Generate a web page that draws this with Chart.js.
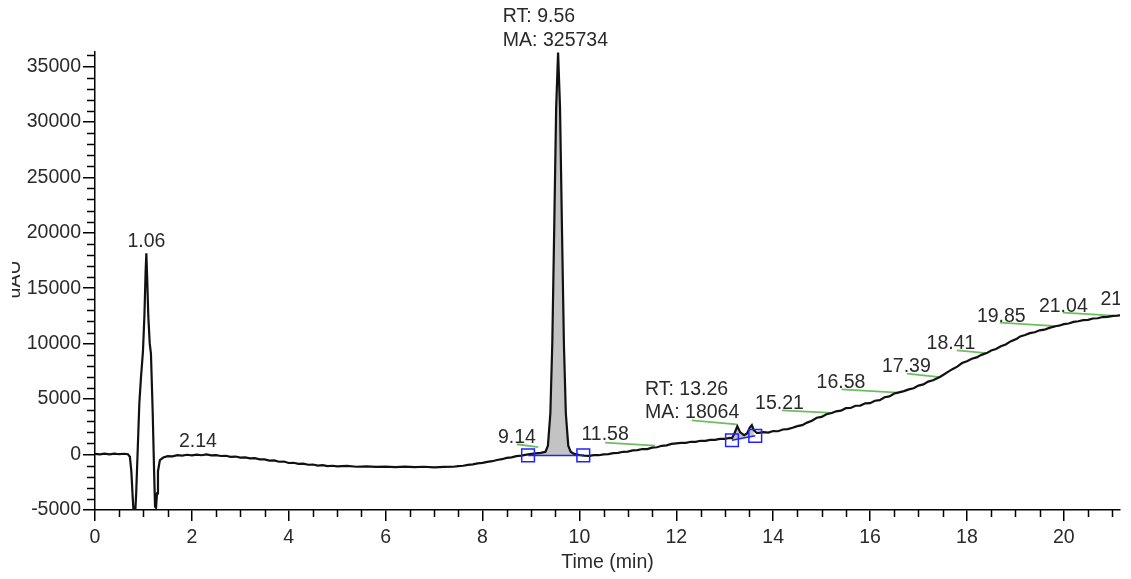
<!DOCTYPE html>
<html>
<head>
<meta charset="utf-8">
<script src="https://cdn.jsdelivr.net/npm/chart.js@4.4.1/dist/chart.umd.min.js"></script>
<style>
  html, body { margin: 0; padding: 0; background: #fff; }
  #wrap { width: 1131px; height: 579px; }
</style>
</head>
<body>
<div id="wrap"><canvas id="c" width="1131" height="579"></canvas></div>
<script>
// ---- trace (time in min, signal in uAU) ----
const times = [
  0.00, 0.10, 0.20, 0.30, 0.40, 0.50, 0.60, 0.68, 0.72, 0.75, 0.78, 0.80, 0.83, 0.85, 0.88,
  0.915, 0.95, 0.99, 1.02, 1.045, 1.06, 1.08, 1.10, 1.13, 1.155, 1.19, 1.22, 1.24, 1.26, 1.28,
  1.30, 1.34, 1.41, 1.50, 1.60, 1.70, 1.80, 1.90, 2.00, 2.10, 2.20, 2.30, 2.40, 2.50, 2.60,
  2.70, 2.80, 2.90, 3.00, 3.10, 3.20, 3.30, 3.40, 3.50, 3.60, 3.70, 3.80, 3.90, 4.00, 4.10,
  4.20, 4.30, 4.40, 4.50, 4.60, 4.70, 4.80, 4.90, 5.00, 5.20, 5.40, 5.60, 5.80, 6.00, 6.20,
  6.40, 6.60, 6.80, 7.00, 7.20, 7.40, 7.50, 7.60, 7.70, 7.80, 7.90, 8.00, 8.10, 8.20, 8.30,
  8.40, 8.50, 8.60, 8.70, 8.80, 8.94, 9.10, 9.20, 9.30, 9.35, 9.40, 9.44, 9.48, 9.52, 9.56,
  9.60, 9.64, 9.68, 9.72, 9.77, 9.82, 9.88, 10.00, 10.10, 10.20, 10.30, 10.40, 10.50, 10.60, 10.70,
  10.80, 10.90, 11.00, 11.10, 11.20, 11.30, 11.40, 11.50, 11.60, 11.70, 11.80, 11.90, 12.00, 12.10, 12.20,
  12.30, 12.40, 12.50, 12.60, 12.70, 12.80, 12.90, 13.00, 13.10, 13.15, 13.20, 13.26, 13.32, 13.40, 13.46,
  13.52, 13.56, 13.60, 13.66, 13.70, 13.80, 13.90, 14.00, 14.10, 14.20, 14.30, 14.40, 14.50, 14.60, 14.70,
  14.80, 14.90, 15.00, 15.10, 15.21, 15.30, 15.40, 15.50, 15.60, 15.70, 15.80, 15.90, 16.00, 16.10, 16.20,
  16.30, 16.40, 16.50, 16.58, 16.70, 16.80, 16.90, 17.00, 17.10, 17.20, 17.30, 17.44, 17.50, 17.60, 17.70,
  17.80, 17.90, 18.00, 18.10, 18.20, 18.30, 18.41, 18.50, 18.60, 18.70, 18.80, 18.90, 19.03, 19.10, 19.20,
  19.30, 19.40, 19.50, 19.60, 19.70, 19.85, 19.90, 20.00, 20.10, 20.20, 20.30, 20.40, 20.50, 20.60, 20.70,
  20.80, 20.90, 21.02, 21.10, 21.20
];
const signal = [
  60, 10, 90, 20, 80, 30, 70, 30, -200, -1500, -4000, -5400, -5300, -3500, 200,
  4600, 7000, 9300, 12500, 16500, 18150, 15500, 12500, 10000, 9100, 4000, -1500, -4700, -4800, -3500,
  -1500, -500, -270, -150, -160, -60, -90, -20, -70, 0, -60, 10, -80, -60, -130,
  -110, -200, -180, -280, -250, -350, -330, -440, -430, -540, -530, -650, -630, -760, -740,
  -840, -820, -920, -900, -990, -960, -1050, -1010, -1070, -1030, -1100, -1060, -1110, -1080, -1130,
  -1090, -1140, -1100, -1160, -1110, -1100, -1050, -1010, -930, -880, -790, -750, -660, -600, -490,
  -420, -300, -260, -140, -100, 20, 100, 150, 250, 800, 3700, 10000, 20400, 31300, 36250,
  31300, 20400, 10000, 3700, 800, 250, 80, -40, -90, -110, -50, -60, 20, 40, 130,
  150, 250, 260, 380, 400, 500, 490, 620, 660, 790, 830, 960, 1010, 1060, 1050,
  1150, 1140, 1240, 1230, 1330, 1320, 1420, 1410, 1500, 1480, 1900, 2550, 2000, 1750, 1900,
  2450, 2650, 2200, 1950, 1960, 2020, 1980, 2120, 2100, 2260, 2300, 2420, 2560, 2650, 2880,
  3050, 3320, 3400, 3640, 3750, 3900, 3960, 4180, 4200, 4400, 4420, 4620, 4630, 4850, 4900,
  5170, 5250, 5500, 5590, 5720, 5880, 5980, 6220, 6330, 6580, 6700, 6990, 7150, 7430, 7700,
  7930, 8250, 8420, 8640, 8760, 8990, 9150, 9380, 9520, 9760, 9920, 10200, 10450, 10650, 10780,
  10950, 11030, 11200, 11260, 11420, 11590, 11620, 11760, 11820, 11960, 12020, 12120, 12150, 12270, 12290,
  12400, 12410, 12500, 12520, 12580
];

// ---- integrated peaks: baseline start/end (blue markers) ----
const peakStartT = [8.94, 13.15];
const peakStartV = [-80, 1290];
const peakEndT   = [10.08, 13.63];
const peakEndV   = [-80, 1690];

// ---- axis ticks ----
const xTickValues = [0, 2, 4, 6, 8, 10, 12, 14, 16, 18, 20];
const yTickValues = [-5000, 0, 5000, 10000, 15000, 20000, 25000, 30000, 35000];
const xRange = [0, 21.16];
const yRange = [-5000, 36300];

// ---- peak labels (centre time, middle value) ----
const labelText = ['1.06', '2.14', '9.14', '11.58', '15.21', '16.58', '17.39', '18.41', '19.85', '21.04', '21.55'];
const labelT    = [1.063, 2.124, 8.71, 10.53, 14.13, 15.40, 16.75, 17.67, 18.71, 19.99, 21.26];
const labelV    = [19220, 1200, 1560, 1830, 4620, 6510, 7960, 10030, 12460, 13360, 14010];

// ---- RT / MA annotations (left time, two line values) ----
const rtText  = [['RT: 9.56', 'MA: 325734'], ['RT: 13.26', 'MA: 18064']];
const rtT     = [8.42, 11.354];
const rtLineV = [[39500, 37340], [5885, 3810]];

// ---- green label leader lines ----
const leadFromT = [8.71, 10.53, 12.32, 14.18, 15.41, 16.76, 17.79, 18.68, 19.98];
const leadFromV = [930, 1080, 3090, 3990, 5880, 7300, 9400, 11890, 12790];
const leadToT   = [9.15, 11.56, 13.25, 15.21, 16.58, 17.44, 18.41, 19.85, 21.01];
const leadToV   = [660, 810, 2730, 3750, 5590, 6990, 9150, 11590, 12520];

// ---- build datasets ----
const FONT = 'Arial, "Liberation Sans", sans-serif';
const FS = 19.5;
const TXT = '#2a2a2a';
const tracePts = times.map((t, i) => ({x: t, y: signal[i]}));
const datasets = [];

datasets.push({
  label: 'trace', data: tracePts, showLine: true, borderColor: '#111', borderWidth: 2.2,
  pointRadius: 0, tension: 0, order: 2, fill: false
});
const blueIdx = [];
peakStartT.forEach((t, i) => {
  blueIdx.push(datasets.length);
  datasets.push({
    label: 'base' + i,
    data: [{x: t, y: peakStartV[i]}, {x: peakEndT[i], y: peakEndV[i]}],
    showLine: true, borderColor: '#2222ff', borderWidth: 1.5,
    pointStyle: 'rect', pointRadius: 9, pointBorderColor: '#2222ff', pointBorderWidth: 1.5,
    pointBackgroundColor: 'rgba(0,0,0,0)', order: 1, fill: false
  });
});
peakStartT.forEach((t, i) => {
  const pts = tracePts.filter(p => p.x >= t && p.x <= peakEndT[i]);
  datasets.push({
    label: 'fill' + i, data: pts, showLine: true, borderWidth: 0, borderColor: 'rgba(0,0,0,0)',
    backgroundColor: '#c3c3c3', pointRadius: 0, order: 6, fill: {target: blueIdx[i]}
  });
});
leadFromT.forEach((t, i) => {
  datasets.push({
    label: 'lead' + i,
    data: [{x: t, y: leadFromV[i]}, {x: leadToT[i], y: leadToV[i]}],
    showLine: true, borderColor: '#6cbf5e', borderWidth: 1.8, pointRadius: 0, order: 3, fill: false
  });
});

// ---- plugins ----
const decorations = {
  id: 'decorations',
  afterDraw(chart) {
    const {ctx, chartArea} = chart;
    const xs = chart.scales.x, ys = chart.scales.y;
    ctx.save();
    ctx.strokeStyle = '#000';
    ctx.lineWidth = 1.5;
    ctx.beginPath();
    for (let v = yRange[0]; v <= yRange[1]; v += 1000) {
      if (v % 5000 === 0) continue;
      const py = Math.round(ys.getPixelForValue(v)) + 0.5;
      ctx.moveTo(chartArea.left - 8, py); ctx.lineTo(chartArea.left, py);
    }
    for (let v = 0.5; v <= xRange[1]; v += 1) {
      const px = Math.round(xs.getPixelForValue(v)) + 0.5;
      ctx.moveTo(px, chartArea.bottom); ctx.lineTo(px, chartArea.bottom + 7);
    }
    for (let v = 1; v <= xRange[1]; v += 2) {
      const px = Math.round(xs.getPixelForValue(v)) + 0.5;
      ctx.moveTo(px, chartArea.bottom); ctx.lineTo(px, chartArea.bottom + 7);
    }
    ctx.stroke();

    ctx.save();
    ctx.beginPath(); ctx.rect(12, 0, 200, chart.height); ctx.clip();
    ctx.translate(20, 279.5);
    ctx.rotate(-Math.PI / 2);
    ctx.fillStyle = TXT;
    ctx.font = FS + 'px ' + FONT;
    ctx.textAlign = 'center'; ctx.textBaseline = 'alphabetic';
    ctx.fillText('uAU', 0, 0);
    ctx.restore();

    ctx.beginPath(); ctx.rect(0, 0, chartArea.right, chart.height); ctx.clip();
    ctx.fillStyle = TXT;
    ctx.font = FS + 'px ' + FONT;
    ctx.textAlign = 'center'; ctx.textBaseline = 'middle';
    labelText.forEach((txt, i) => {
      ctx.fillText(txt, xs.getPixelForValue(labelT[i]), ys.getPixelForValue(labelV[i]));
    });
    ctx.textAlign = 'left';
    rtText.forEach((lines, i) => {
      lines.forEach((ln, j) => {
        ctx.fillText(ln, xs.getPixelForValue(rtT[i]), ys.getPixelForValue(rtLineV[i][j]));
      });
    });
    ctx.restore();
  }
};

new Chart(document.getElementById('c'), {
  type: 'scatter',
  data: {datasets},
  options: {
    responsive: false,
    animation: false,
    events: [],
    layout: {padding: {top: 52, right: 11, left: 0, bottom: 0}},
    plugins: {legend: {display: false}, tooltip: {enabled: false}},
    scales: {
      x: {
        type: 'linear', min: xRange[0], max: xRange[1],
        afterFit: s => { s.height = 69; },
        afterBuildTicks: s => { s.ticks = xTickValues.map(v => ({value: v})); },
        ticks: {
          includeBounds: false, autoSkip: false, maxRotation: 0, padding: 5,
          color: TXT, font: {family: FONT, size: FS},
          callback: v => String(v)
        },
        grid: {drawOnChartArea: false, drawTicks: true, tickLength: 11, color: '#000', lineWidth: 1.5},
        border: {display: true, color: '#000', width: 1.5},
        title: {display: true, text: 'Time (min)', color: TXT, font: {family: FONT, size: FS}, padding: {top: 0, bottom: 5}}
      },
      y: {
        type: 'linear', min: yRange[0], max: yRange[1],
        afterFit: s => { s.width = 95; },
        afterBuildTicks: s => { s.ticks = yTickValues.map(v => ({value: v})); },
        ticks: {
          includeBounds: false, autoSkip: false, padding: 2,
          color: TXT, font: {family: FONT, size: FS},
          callback: v => String(v)
        },
        grid: {drawOnChartArea: false, drawTicks: true, tickLength: 12, color: '#000', lineWidth: 1.5},
        border: {display: true, color: '#000', width: 1.5}
      }
    }
  },
  plugins: [decorations]
});
</script>
</body>
</html>
